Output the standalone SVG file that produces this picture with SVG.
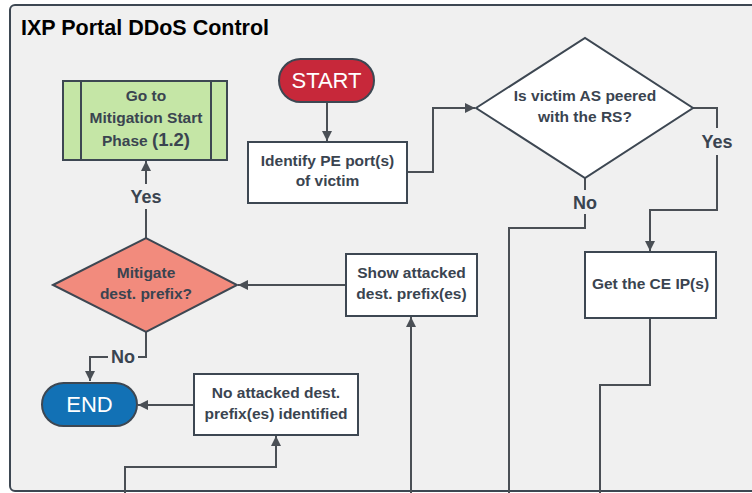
<svg xmlns="http://www.w3.org/2000/svg" width="752" height="493" viewBox="0 0 752 493">
<style>
.t{font-family:"Liberation Sans",Arial,sans-serif;font-weight:bold;font-size:15.5px;fill:#3a4450;text-anchor:middle}
.lbl{font-family:"Liberation Sans",Arial,sans-serif;font-weight:bold;font-size:18px;fill:#3a4450;text-anchor:middle}
.term{font-family:"Liberation Sans",Arial,sans-serif;font-size:22px;fill:#ffffff;text-anchor:middle}
.box{fill:#ffffff;stroke:#3d4752;stroke-width:2}
.c{fill:none;stroke:#4a4f55;stroke-width:2}
</style>
<defs>
<marker id="ah" viewBox="0 0 10 10" refX="10" refY="5" markerWidth="10" markerHeight="10" markerUnits="userSpaceOnUse" orient="auto">
<path d="M0,0 L10,5 L0,10 z" fill="#4a4f55"/>
</marker>
</defs>
<rect x="10" y="5" width="760" height="486" rx="5" fill="#f0f0f0" stroke="#3d4752" stroke-width="2"/>
<text x="21" y="35" style="font-family:'Liberation Sans',Arial,sans-serif;font-weight:bold;font-size:21.5px;fill:#000">IXP Portal DDoS Control</text>
<g id="connectors">
<path class="c" d="M327,102 V141" marker-end="url(#ah)"/>
<path class="c" d="M407,172 H433 V108 H475" marker-end="url(#ah)"/>
<path class="c" d="M693,108 H717 V128 M717,155 V210 H650 V251" marker-end="url(#ah)"/>
<path class="c" d="M585,178 V190 M585,214 V228 H509 V493"/>
<path class="c" d="M650,318 V385 H600 V493"/>
<path class="c" d="M411,493 V317" marker-end="url(#ah)"/>
<path class="c" d="M346,285 H238" marker-end="url(#ah)"/>
<path class="c" d="M146,238 V209 M146,184 V161" marker-end="url(#ah)"/>
<path class="c" d="M146,332 V357 H138 M108,357 H90 V381" marker-end="url(#ah)"/>
<path class="c" d="M194,405 H138" marker-end="url(#ah)"/>
<path class="c" d="M125,493 V467 H276 V436" marker-end="url(#ah)"/>
<text class="lbl" x="717" y="148">Yes</text>
<text class="lbl" x="585" y="209">No</text>
<text class="lbl" x="146" y="203">Yes</text>
<text class="lbl" x="123" y="363">No</text>
</g>
<g id="goto">
<rect x="63" y="81" width="164" height="79" fill="#c5e6a6" stroke="#3d4752" stroke-width="2"/>
<path d="M81,81 V160 M211,81 V160" stroke="#3d4752" stroke-width="2"/>
<text class="t" x="146" y="101">Go to</text>
<text class="t" x="146" y="123">Mitigation Start</text>
<text class="t" x="146" y="146">Phase <tspan style="font-size:18.5px">(1.2)</tspan></text>
</g>
<g id="start">
<rect x="279" y="59" width="95" height="43" rx="21.5" fill="#c7283a" stroke="#3d4752" stroke-width="2"/>
<text class="term" x="326.5" y="88">START</text>
</g>
<g id="identify">
<rect class="box" x="248" y="142" width="159" height="61"/>
<text class="t" x="327.5" y="166">Identify PE port(s)</text>
<text class="t" x="327.5" y="186">of victim</text>
</g>
<g id="peered">
<path d="M476,108 L585,38 L693,108 L585,178 Z" fill="#ffffff" stroke="#3d4752" stroke-width="2"/>
<text class="t" x="585" y="101">Is victim AS peered</text>
<text class="t" x="585" y="122">with the RS?</text>
</g>
<g id="getce">
<rect class="box" x="585" y="252" width="131" height="66"/>
<text class="t" x="650.5" y="289">Get the CE IP(s)</text>
</g>
<g id="show">
<rect class="box" x="346" y="254" width="131" height="62"/>
<text class="t" x="411.5" y="278">Show attacked</text>
<text class="t" x="411.5" y="299">dest. prefix(es)</text>
</g>
<g id="mitigate">
<path d="M53,285 L146,238 L237,285 L146,332 Z" fill="#f28b7d" stroke="#3d4752" stroke-width="2"/>
<text class="t" x="146" y="278">Mitigate</text>
<text class="t" x="146" y="299">dest. prefix?</text>
</g>
<g id="end">
<rect x="42" y="383" width="95" height="43" rx="21.5" fill="#1271b5" stroke="#3d4752" stroke-width="2"/>
<text class="term" x="89.5" y="412">END</text>
</g>
<g id="noattacked">
<rect class="box" x="194" y="374" width="164" height="61"/>
<text class="t" x="276" y="398">No attacked dest.</text>
<text class="t" x="276" y="419">prefix(es) identified</text>
</g>
</svg>
